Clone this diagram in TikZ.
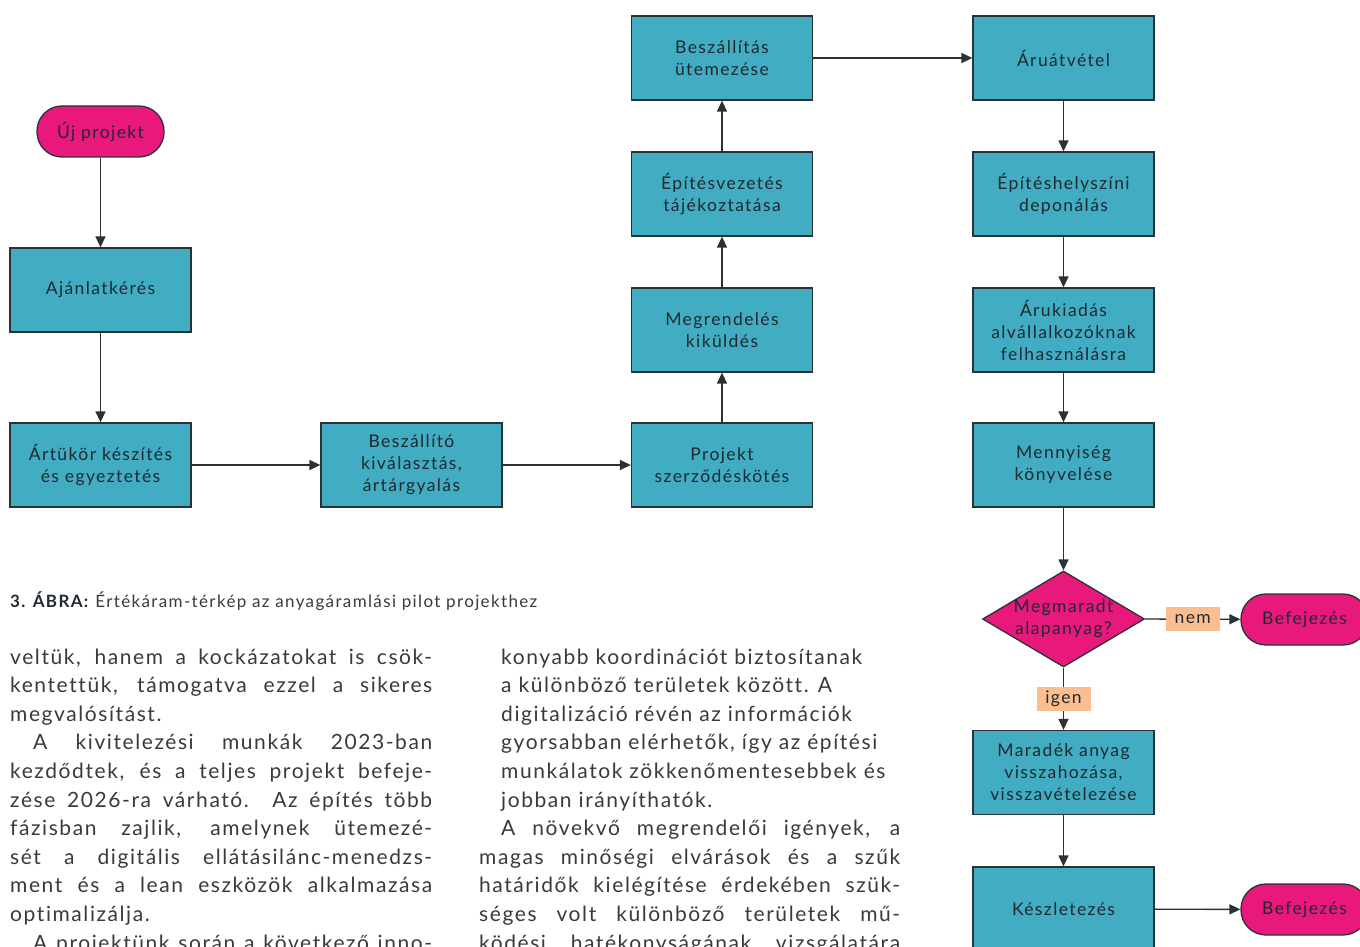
\documentclass[tikz,border=0pt]{standalone}
\usepackage{fontspec}
\setmainfont{Lato}[LetterSpace=7.5,Ligatures=NoCommon]
\newfontfamily\diagfont{Lato}[LetterSpace=8,Ligatures=NoCommon]
\newfontfamily\capfont{Lato}[LetterSpace=8,Ligatures=NoCommon]
\usetikzlibrary{shapes.geometric,arrows.meta}
\definecolor{boxteal}{HTML}{42ACC3}
\definecolor{boxpink}{HTML}{E8187C}
\definecolor{lblpeach}{HTML}{FCBE91}
\definecolor{edgec}{HTML}{2A3236}
\definecolor{txtc}{HTML}{1E2A30}
\definecolor{bodyc}{HTML}{3A3A3A}
\begin{document}
\begin{tikzpicture}[x=1pt,y=-1pt,
  box/.style={draw=edgec, line width=1.3pt, fill=boxteal, minimum width=181pt, minimum height=84pt, inner sep=2pt, align=center, text=txtc, font=\diagfont\fontsize{17.5}{22}\selectfont},
  term/.style={draw=edgec, line width=1.3pt, fill=boxpink, minimum width=127pt, minimum height=51pt, rounded corners=25pt, text=txtc, font=\diagfont\fontsize{17.5}{22}\selectfont},
  dia/.style={diamond, draw=edgec, line width=1.3pt, fill=boxpink, minimum width=162pt, minimum height=96pt, inner sep=0pt},
  diatext/.style={align=center, text=txtc, inner sep=0pt, font=\diagfont\fontsize{17.5}{22}\selectfont},
  lbl/.style={fill=lblpeach, inner sep=0pt, minimum width=54pt, minimum height=24pt, text=txtc, font=\diagfont\fontsize{17.5}{22}\selectfont},
  arr/.style={draw=edgec, line width=1.4pt, -{Triangle[length=11pt,width=10pt]}},
  body/.style={anchor=base west, inner sep=0pt, text=bodyc, font=\fontsize{21}{28}\selectfont},
  captxt/.style={anchor=base west, inner sep=0pt, text=bodyc, font=\capfont\fontsize{17}{20}\selectfont}
]
\useasboundingbox (0,0) rectangle (1360,947);
\clip (0,0) rectangle (1360,947);
\fill[white] (0,0) rectangle (1360,947);

% flow
\node[term] (np) at (100.5,131.5) {Új projekt};
\node[box] (aj) at (100.5,290) {Ajánlatkérés};
\node[box] (ar) at (100.5,465) {Ártükör készítés\\és egyeztetés};
\node[box] (bsz) at (411.5,465) {Beszállító\\kiválasztás,\\ártárgyalás};
\node[box] (pr) at (722,465) {Projekt\\szerződéskötés};
\node[box] (mg) at (722,330) {Megrendelés\\kiküldés};
\node[box] (ev) at (722,194) {Építésvezetés\\tájékoztatása};
\node[box] (bu) at (722,58) {Beszállítás\\ütemezése};
\node[box] (au) at (1063.5,58) {Áruátvétel};
\node[box] (eh) at (1063.5,194) {Építéshelyszíni\\deponálás};
\node[box] (ak) at (1063.5,330) {Árukiadás\\alvállalkozóknak\\felhasználásra};
\node[box] (mk) at (1063.5,465) {Mennyiség\\könyvelése};
\node[dia] (dm) at (1063.5,619) {};
\node[diatext] (dmt) at (1063.5,619) {Megmaradt\\alapanyag?};
\node[term] (b1) at (1304.5,619.5) {Befejezés};
\node[box] (ma) at (1063.5,772.5) {Maradék anyag\\visszahozása,\\visszavételezése};
\node[box] (ks) at (1063.5,909) {Készletezés};
\node[term] (b2) at (1304.5,909.5) {Befejezés};

\draw[arr] (np) -- (aj);
\draw[arr] (aj) -- (ar);
\draw[arr] (ar) -- (bsz);
\draw[arr] (bsz) -- (pr);
\draw[arr] (pr) -- (mg);
\draw[arr] (mg) -- (ev);
\draw[arr] (ev) -- (bu);
\draw[arr] (bu) -- (au);
\draw[arr] (au) -- (eh);
\draw[arr] (eh) -- (ak);
\draw[arr] (ak) -- (mk);
\draw[arr] (mk) -- (dm.north);
\draw[arr] (dm.east) -- node[lbl] (lnem) {nem} (b1);
\draw[arr] (dm.south) -- node[lbl] (ligen) {igen} (ma);
\draw[arr] (ma) -- (ks);
\draw[arr] (ks) -- (b2);

% caption
\node[captxt] (cap) at (10,607) {\textcolor{txtc}{\textbf{3. ÁBRA:}} Értékáram-térkép az anyagáramlási pilot projekthez};

% left text column
\node[body] (l1) at (10,664) {\makebox[422pt][s]{veltük, hanem a kockázatokat is csök-}};
\node[body] (l2) at (10,692.6) {\makebox[422pt][s]{kentettük, támogatva ezzel a sikeres}};
\node[body] (l3) at (10,721.2) {megvalósítást.};
\node[body] (l4) at (33,749.8) {\makebox[399pt][s]{A kivitelezési munkák 2023-ban}};
\node[body] (l5) at (10,778.4) {\makebox[422pt][s]{kezdődtek, és a teljes projekt befeje-}};
\node[body] (l6) at (10,807) {\makebox[422pt][s]{zése 2026-ra várható. Az építés több}};
\node[body] (l7) at (10,835.6) {\makebox[422pt][s]{fázisban zajlik, amelynek ütemezé-}};
\node[body] (l8) at (10,864.2) {\makebox[422pt][s]{sét a digitális ellátásilánc-menedzs-}};
\node[body] (l9) at (10,892.8) {\makebox[422pt][s]{ment és a lean eszközök alkalmazása}};
\node[body] (l10) at (10,921.4) {optimalizálja.};
\node[body] (l11) at (33,950) {\makebox[399pt][s]{A projektünk során a következő inno-}};

% right text column
\node[body] (r1) at (501,664) {konyabb koordinációt biztosítanak};
\node[body] (r2) at (501,692.6) {a különböző területek között. A};
\node[body] (r3) at (501,721.2) {digitalizáció révén az információk};
\node[body] (r4) at (501,749.8) {gyorsabban elérhetők, így az építési};
\node[body] (r5) at (501,778.4) {munkálatok zökkenőmentesebbek és};
\node[body] (r6) at (501,807) {jobban irányíthatók.};
\node[body] (r7) at (501,835.6) {\makebox[399pt][s]{A növekvő megrendelői igények, a}};
\node[body] (r8) at (479,864.2) {\makebox[421pt][s]{magas minőségi elvárások és a szűk}};
\node[body] (r9) at (479,892.8) {\makebox[421pt][s]{határidők kielégítése érdekében szük-}};
\node[body] (r10) at (479,921.4) {\makebox[421pt][s]{séges volt különböző területek mű-}};
\node[body] (r11) at (479,950) {\makebox[421pt][s]{ködési hatékonyságának vizsgálatára}};
\end{tikzpicture}
\end{document}
